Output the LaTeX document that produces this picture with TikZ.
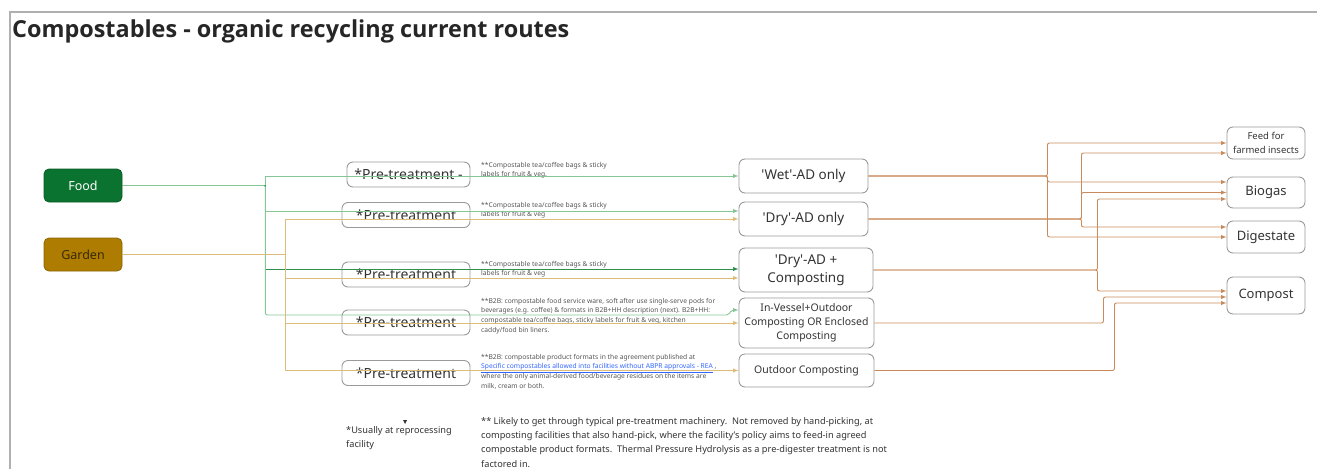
\documentclass[tikz,border=0pt]{standalone}
\usepackage{fontspec}
\setmainfont{Noto Sans}
\newfontfamily\titlefont{Open Sans}

\definecolor{foodgreen}{HTML}{0B7330}
\definecolor{gardengold}{HTML}{AE7C00}
\definecolor{gardentext}{HTML}{3A2A05}
\definecolor{boxgray}{HTML}{9A9A9A}
\definecolor{textgray}{HTML}{333333}
\definecolor{notegray}{HTML}{555555}
\definecolor{greenline}{HTML}{86C595}
\definecolor{darkgreenline}{HTML}{2F9050}
\definecolor{goldline}{HTML}{DDBC7A}
\definecolor{brownline}{HTML}{C98B5C}
\definecolor{linkblue}{HTML}{3366FF}
\definecolor{framegray}{HTML}{B0B0B0}

\newcommand{\fsize}[2]{\fontsize{#1}{#2}\selectfont}

\tikzset{
  srcbox/.style={rounded corners=5pt, draw=#1!80!black, fill=#1, line width=0.8pt,
    minimum width=78pt, minimum height=33pt, inner sep=0pt, font=\fsize{12.5}{14}},
  prebox/.style={rounded corners=6pt, draw=boxgray, line width=0.9pt, text=textgray,
    minimum width=128pt, minimum height=25pt, inner sep=0pt, font=\fsize{14}{16}},
  procbox/.style={rounded corners=6pt, draw=boxgray, line width=0.9pt, text=textgray,
    align=center, inner sep=0pt, font=\fsize{13.5}{18}},
  outbox/.style={rounded corners=6pt, draw=boxgray, line width=0.9pt, text=textgray,
    align=center, minimum width=78pt, minimum height=32pt, inner sep=0pt, font=\fsize{13}{15}},
  notetext/.style={anchor=north west, inner sep=0pt, align=left, text=notegray, font=\fsize{6.7}{9.6}},
  foottext/.style={anchor=north west, inner sep=0pt, align=left, text=textgray, font=\fsize{9.2}{14.3}},
  foodline/.style={draw=greenline, line width=0.9pt, ->},
  gardenline/.style={draw=goldline, line width=0.9pt, ->},
  routeline/.style={draw=brownline, line width=0.9pt, rounded corners=2pt, ->}
}

\begin{document}
\begin{tikzpicture}[x=1pt, y=-1pt, >=latex]
    \useasboundingbox (0,0) rectangle (1317,469);
    \clip (0,0) rectangle (1317,469);

    % Frame and title
    \draw[framegray, line width=1.2pt] (10,469) -- (10,12) -- (1317,12);
    \node[anchor=base west, inner sep=0pt, font=\titlefont\bfseries\fsize{23.4}{26}, text=black!85] (title) at (12,37)
        {Compostables - organic recycling current routes};

    % Sources
    \node[srcbox=foodgreen, text=white] (food) at (83,185.5) {Food};
    \node[srcbox=gardengold, text=gardentext] (garden) at (83,254.5) {Garden};

    % Pre-treatment
    \node[prebox, minimum width=123pt] (pre1) at (408.5,174.5) {*Pre-treatment -};
    \node[prebox] (pre2) at (406,215) {*Pre-treatment};
    \node[prebox] (pre3) at (406,274.5) {*Pre-treatment};
    \node[prebox] (pre4) at (406,322.5) {*Pre-treatment};
    \node[prebox] (pre5) at (406,373) {*Pre-treatment};

    % Notes on accepted formats
    \node[notetext] (note1) at (481,162) {**Compostable tea/coffee bags \& sticky\\labels for fruit \& veg.};
    \node[notetext] (note2) at (481,202) {**Compostable tea/coffee bags \& sticky\\labels for fruit \& veg};
    \node[notetext] (note3) at (481,261) {**Compostable tea/coffee bags \& sticky\\labels for fruit \& veg};
    \node[notetext] (note4) at (481,298) {**B2B: compostable food service ware, soft after use single-serve pods for\\
        beverages (e.g. coffee) \& formats in B2B+HH description (next). B2B+HH:\\
        compostable tea/coffee bags, sticky labels for fruit \& veg, kitchen\\caddy/food bin liners.};
    \node[notetext] (note5) at (481,354) {**B2B: compostable product formats in the agreement published at\\
        {\color{linkblue}\underline{Specific compostables allowed into facilities without ABPR approvals - REA}} ,\\
        where the only animal-derived food/beverage residues on the items are\\milk, cream or both.};

    % Processes
    \node[procbox, minimum width=129pt, minimum height=34pt] (wet) at (803.5,176)
        {\textquotesingle Wet\textquotesingle-AD only};
    \node[procbox, minimum width=129pt, minimum height=34pt] (dryad) at (803.5,219)
        {\textquotesingle Dry\textquotesingle-AD only};
    \node[procbox, minimum width=134pt, minimum height=44pt] (drycomp) at (806,270)
        {\textquotesingle Dry\textquotesingle-AD +\\Composting};
    \node[procbox, font=\fsize{10.5}{14}, minimum width=135pt, minimum height=50pt] (vessel) at (806.5,323)
        {In-Vessel+Outdoor\\Composting OR Enclosed\\Composting};
    \node[procbox, font=\fsize{10.5}{13}, minimum width=135pt, minimum height=33pt] (outdoor) at (806.5,370.5)
        {Outdoor Composting};

    % Outputs
    \node[outbox, font=\fsize{9.5}{13.5}] (feed) at (1266,143) {Feed for\\farmed insects};
    \node[outbox, minimum height=31pt] (biogas) at (1266,192.5) {Biogas};
    \node[outbox] (digest) at (1266,237) {Digestate};
    \node[outbox, minimum height=37pt] (compost) at (1266,295.5) {Compost};

    % Food routes
    \draw[foodline] (food.east) -- ++(143,0) |- (wet.west);
    \draw[foodline] (food.east) -- ++(143,0) |- ([yshift=8pt]dryad.west);
    \draw[foodline, draw=darkgreenline] (food.east) -- ++(143,0) |- ([yshift=1pt]drycomp.west);
    \draw[foodline, rounded corners=2pt] (food.east) -- ++(143,0) |- ([xshift=-10pt,yshift=8pt]vessel.west)
        -- ([xshift=-7pt,yshift=13pt]vessel.west) -- ([yshift=13pt]vessel.west);

    % Garden routes
    \draw[gardenline] (garden.east) -- ++(163,0) |- (dryad.west);
    \draw[gardenline] (garden.east) -- ++(163,0) |- ([yshift=-8pt]drycomp.west);
    \draw[gardenline] (garden.east) -- ++(163,0) |- (vessel.west);
    \draw[gardenline] (garden.east) -- ++(163,0) |- (outdoor.west);

    % Outputs of each process
    \draw[routeline] (wet.east) -- ++(179,0) |- (feed.west);
    \draw[routeline] (wet.east) -- ++(179,0) |- ([yshift=10.5pt]biogas.west);
    \draw[routeline] (wet.east) -- ++(179,0) |- (digest.west);
    \draw[routeline] (dryad.east) -- ++(213,0) |- ([yshift=-10pt]feed.west);
    \draw[routeline] (dryad.east) -- ++(213,0) |- (biogas.west);
    \draw[routeline] (dryad.east) -- ++(213,0) |- ([yshift=10pt]digest.west);
    \draw[routeline] (drycomp.east) -- ++(224,0) |- ([yshift=-6.5pt]biogas.west);
    \draw[routeline] (drycomp.east) -- ++(224,0) |- ([yshift=4.5pt]compost.west);
    \draw[routeline] (vessel.east) -- ++(229,0) |- ([yshift=-1.5pt]compost.west);
    \draw[routeline] (outdoor.east) -- ++(240,0) |- ([yshift=-7.5pt]compost.west);

    % Footnotes
    \fill[textgray] (403,420) -- (407,420) -- (405,424) -- cycle;
    \node[foottext] (usually) at (346,426) {*Usually at reprocessing\\facility};
    \node[foottext] (likely) at (481,417) {** Likely to get through typical pre-treatment machinery.\ \ Not removed by hand-picking, at\\
        composting facilities that also hand-pick, where the facility's policy aims to feed-in agreed\\
        compostable product formats.\ \ Thermal Pressure Hydrolysis as a pre-digester treatment is not\\
        factored in.};

  \end{tikzpicture}
\end{document}
